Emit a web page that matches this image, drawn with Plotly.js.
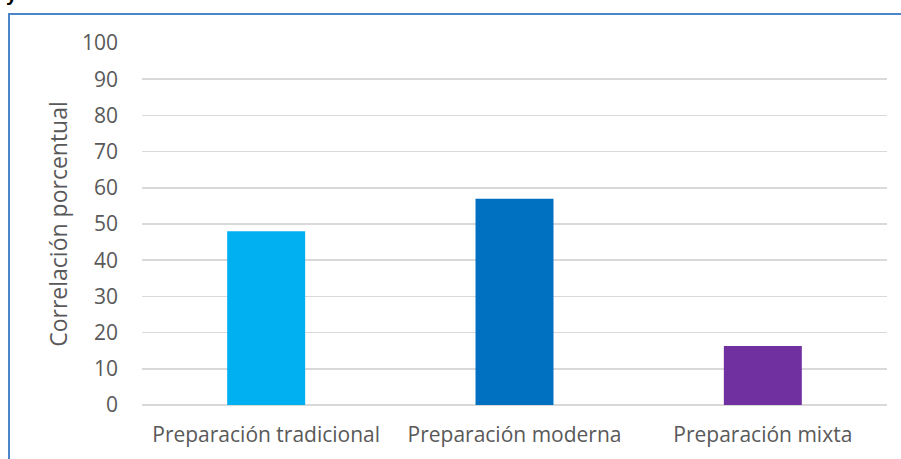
<!DOCTYPE html>
<html>
<head>
<meta charset="utf-8">
<script src="https://cdn.plot.ly/plotly-3.0.1.min.js"></script>
<style>
  html, body { margin: 0; padding: 0; background: #ffffff; overflow: hidden; }
  #chart { position: absolute; left: 0; top: 0; width: 901px; height: 459px; }
  #frame { position: absolute; left: 8px; top: 13px; width: 1200px; height: 1200px;
           border-left: 2px solid #4a86c8; border-top: 2px solid #4a86c8; pointer-events: none; }
  #frag { position: absolute; left: 6px; top: -17px; font-family: "Liberation Sans", sans-serif;
          font-weight: bold; font-size: 20px; color: #000; }
</style>
</head>
<body>
<div id="frag">y</div>
<div id="chart"></div>
<div id="frame"></div>
<script>
const categories = ["Preparación tradicional", "Preparación moderna", "Preparación mixta"];
const values = [48, 57, 16.3];
const barColors = ["#00b0f0", "#0070c0", "#7030a0"];
const yTitle = "Correlación porcentual";

const trace = {
  type: "bar",
  x: categories,
  y: values,
  marker: { color: barColors },
  hoverinfo: "x+y"
};

const layout = {
  width: 901,
  height: 459,
  margin: { l: 142, r: 14, t: 43, b: 54 },
  paper_bgcolor: "rgba(0,0,0,0)",
  plot_bgcolor: "#ffffff",
  bargap: 0.686,
  showlegend: false,
  font: { family: "'Open Sans', sans-serif", size: 21, color: "#595959" },
  xaxis: {
    type: "category",
    showgrid: false,
    zeroline: false,
    showline: false,
    ticks: "",
    ticklabelstandoff: 15,
    tickfont: { size: 21, color: "#595959" }
  },
  yaxis: {
    range: [0, 100],
    dtick: 10,
    tick0: 0,
    showgrid: true,
    gridcolor: "#d9d9d9",
    gridwidth: 1.5,
    zeroline: true,
    zerolinecolor: "#d9d9d9",
    zerolinewidth: 1.5,
    showline: false,
    ticks: "",
    ticklabelstandoff: 23,
    tickfont: { size: 21, color: "#595959" },
    title: { text: yTitle, standoff: 7, font: { size: 23, color: "#595959" } }
  }
};

Plotly.newPlot("chart", [trace], layout, { displayModeBar: false, staticPlot: true });
</script>
</body>
</html>
